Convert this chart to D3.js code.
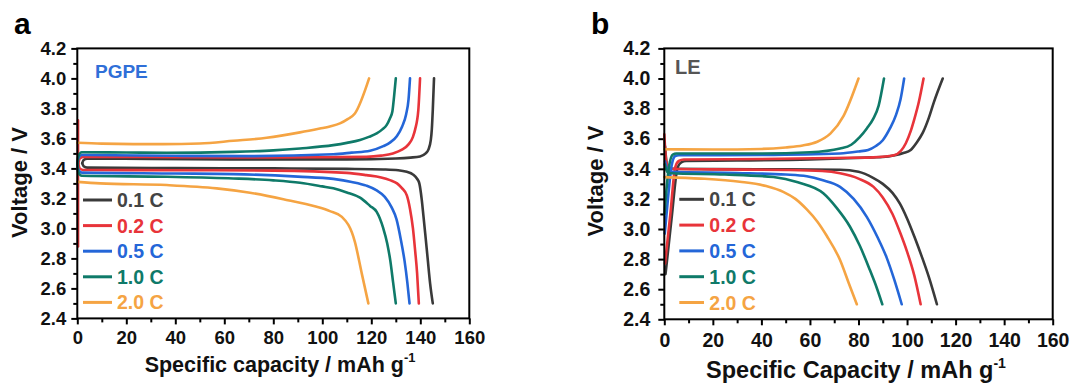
<!DOCTYPE html>
<html><head><meta charset="utf-8">
<script src="https://cdn.jsdelivr.net/npm/d3@7"></script>
<style>
html,body{margin:0;padding:0;background:#fff;}
svg{display:block;}
</style></head><body>
<svg id="chart" width="1075" height="388"></svg>
<script>
// C-rates and their colours
const rates = ["0.1 C", "0.2 C", "0.5 C", "1.0 C", "2.0 C"];
const rateColors = ["#3a3a3a", "#e8343a", "#2466d8", "#0f7a69", "#f5a443"];

// Axis ticks
const xTicks = [0, 20, 40, 60, 80, 100, 120, 140, 160];
const xMinorTicks = [10, 30, 50, 70, 90, 110, 130, 150];
const yTicks = [2.4, 2.6, 2.8, 3.0, 3.2, 3.4, 3.6, 3.8, 4.0, 4.2];
const yMinorTicks = [2.5, 2.7, 2.9, 3.1, 3.3, 3.5, 3.7, 3.9, 4.1];

// PGPE cell: charge curves [capacity mAh/g, voltage V], one per rate
const pgpeCharge = [
  [[2.0,3.435],[2.6,3.456],[4,3.465],[30,3.463],[70,3.46],[110,3.46],[130,3.466],[136,3.472],[139.9,3.48],[142.2,3.50],[143.3,3.525],[144.3,3.59],[144.7,3.66],[145.1,3.79],[145.6,4.0]],
  [[0.4,3.433],[1.0,3.465],[2.5,3.477],[40,3.475],[80,3.473],[118,3.477],[124,3.485],[128.8,3.50],[132.5,3.525],[135.2,3.56],[137,3.61],[137.9,3.66],[139.2,3.79],[139.9,4.0]],
  [[0,3.43],[0.5,3.47],[1.8,3.489],[40,3.484],[70,3.482],[104.5,3.494],[112,3.505],[119.5,3.518],[124.9,3.548],[127.6,3.572],[130.4,3.615],[132.6,3.68],[134.2,3.76],[135.2,3.86],[135.8,4.0]],
  [[0,3.43],[0.4,3.48],[1.8,3.508],[20,3.506],[36.5,3.504],[63.7,3.51],[80,3.52],[90.9,3.533],[104.5,3.555],[110,3.57],[115.4,3.589],[119,3.61],[122.2,3.633],[124.5,3.66],[126.3,3.69],[127.5,3.73],[128.6,3.78],[129.3,3.88],[130,4.0]],
  [[0,3.571],[10,3.565],[22.9,3.562],[35,3.562],[50,3.566],[63.7,3.584],[77.3,3.604],[90.9,3.64],[99,3.666],[103.1,3.68],[107.2,3.70],[110.5,3.73],[113.3,3.766],[119.1,4.0]]
];
// PGPE cell: discharge curves
const pgpeDischarge = [
  [[2.0,3.435],[2.6,3.414],[4,3.405],[40,3.402],[80,3.40],[110,3.397],[125,3.393],[131,3.388],[134.5,3.377],[137,3.36],[138.6,3.333],[139.6,3.30],[140.6,3.19],[141.3,3.08],[142,2.967],[143,2.80],[144,2.634],[145.1,2.5]],
  [[0.4,3.433],[1.0,3.40],[2.5,3.389],[40,3.388],[80,3.385],[110,3.37],[118,3.355],[124,3.34],[127.6,3.322],[130.5,3.30],[132.4,3.27],[134.5,3.22],[135.8,3.13],[137,3.0],[137.9,2.85],[138.7,2.70],[139.4,2.5]],
  [[0,3.43],[0.5,3.39],[1.8,3.372],[40,3.366],[63.7,3.362],[90,3.345],[104.5,3.33],[112,3.31],[118,3.285],[122,3.255],[125.5,3.21],[128.3,3.14],[130.3,3.06],[132,2.93],[133.6,2.78],[134.7,2.64],[135.6,2.5]],
  [[0,3.43],[0.4,3.375],[1.8,3.351],[36.5,3.344],[63.7,3.333],[80,3.32],[90.9,3.304],[100,3.28],[104.5,3.267],[110,3.24],[115.4,3.205],[119.5,3.15],[122.2,3.11],[124.9,3.0],[126.5,2.9],[127.8,2.78],[128.9,2.64],[130,2.5]],
  [[0,3.31],[9.3,3.30],[36.5,3.289],[56.9,3.267],[70.5,3.238],[84.1,3.195],[97.7,3.144],[103.1,3.115],[108,3.077],[113.3,2.91],[116.1,2.70],[118.8,2.5]]
];
// PGPE cell: rest spike of the 0.2 C curve at zero capacity
const pgpeSpike = [[0.3,3.72],[0.3,2.88]];

// LE cell: charge curves
const leCharge = [
  [[0.5,2.70],[3,3.07],[5.5,3.41],[7,3.443],[9,3.452],[30,3.455],[60,3.462],[86,3.476],[90,3.478],[95,3.49],[98.5,3.505],[101.5,3.525],[104,3.575],[106.5,3.64],[109,3.74],[111,3.84],[114.7,4.0]],
  [[0.3,2.77],[2.5,3.1],[4.5,3.41],[6,3.452],[8,3.462],[40,3.465],[70,3.472],[86,3.476],[91,3.482],[94.6,3.49],[97.5,3.52],[99.5,3.57],[101.5,3.65],[103,3.73],[104.8,3.84],[106.8,4.0]],
  [[0.2,2.97],[1.5,3.2],[3,3.42],[4.5,3.485],[6,3.49],[40,3.492],[72.4,3.502],[80,3.515],[84,3.525],[87,3.55],[90,3.59],[93,3.67],[95.5,3.76],[97.3,3.86],[98.8,4.0]],
  [[0.1,3.1],[1,3.28],[2,3.42],[3.5,3.495],[5,3.502],[40,3.502],[60,3.51],[72.4,3.535],[77,3.56],[80.5,3.61],[83.5,3.67],[86,3.73],[88.3,3.82],[90.5,4.0]],
  [[0,3.53],[20,3.528],[40,3.532],[50,3.542],[57,3.555],[63,3.58],[68.5,3.635],[73.8,3.75],[80,4.0]]
];
// LE cell: discharge curves
const leDischarge = [
  [[0.3,3.55],[1.2,3.42],[3,3.40],[20,3.398],[50,3.397],[72.4,3.394],[80,3.38],[86,3.34],[90,3.30],[94,3.24],[97,3.17],[100,3.07],[103,2.95],[106,2.82],[109,2.68],[112.3,2.5]],
  [[0,3.63],[0.8,3.45],[2.5,3.40],[20,3.396],[50,3.392],[65,3.385],[72.4,3.37],[80,3.335],[86.2,3.28],[90,3.21],[94,3.10],[97.3,2.97],[100,2.85],[103,2.69],[105.6,2.5]],
  [[0.3,3.45],[1.5,3.39],[3,3.38],[30,3.372],[50,3.362],[58.7,3.35],[65,3.325],[72.4,3.28],[78,3.2],[83.4,3.081],[88,2.94],[91.6,2.81],[94.8,2.66],[97.8,2.5]],
  [[0.2,3.43],[1.2,3.38],[3,3.37],[25,3.362],[45,3.345],[55,3.31],[65.5,3.237],[71,3.14],[76.5,3.015],[80.5,2.89],[84.7,2.727],[87.5,2.61],[89.8,2.5]],
  [[0,3.345],[15,3.335],[31.1,3.314],[42,3.285],[49,3.247],[54,3.2],[58.7,3.13],[63,3.05],[66.9,2.955],[72.4,2.794],[76,2.64],[79.3,2.5]]
];

const FONT = "'Liberation Sans', Arial, Helvetica, sans-serif";
const svg = d3.select("#chart")
  .attr("font-family", FONT)
  .attr("font-weight", "bold");

function drawPanel(p) {
  const x = d3.scaleLinear().domain([0, 160]).range([p.left, p.right]);
  const y = d3.scaleLinear().domain([2.4, 4.2]).range([p.bottom, p.top]);
  const g = svg.append("g");

  const styleAxis = (sel, size) => {
    sel.attr("font-family", FONT).attr("font-size", size).attr("font-weight", "bold");
    sel.select(".domain").remove();
    sel.selectAll(".tick line").attr("stroke", "#000").attr("stroke-width", 2);
    sel.selectAll(".tick text").attr("fill", "#111");
  };

  // x axis, major and minor ticks
  g.append("g").attr("transform", `translate(0,${p.bottom})`)
    .call(d3.axisBottom(x).tickValues(xTicks).tickSize(6).tickPadding(p.xPad).tickFormat(d3.format("d")))
    .call(s => styleAxis(s, p.tickFont));
  g.append("g").attr("transform", `translate(0,${p.bottom})`)
    .call(d3.axisBottom(x).tickValues(xMinorTicks).tickSize(4).tickFormat(""))
    .call(s => styleAxis(s, p.tickFont));

  // y axis, major and minor ticks
  g.append("g").attr("transform", `translate(${p.left},0)`)
    .call(d3.axisLeft(y).tickValues(yTicks).tickSize(6).tickPadding(p.yPad).tickFormat(d3.format(".1f")))
    .call(s => styleAxis(s, p.tickFont));
  g.append("g").attr("transform", `translate(${p.left},0)`)
    .call(d3.axisLeft(y).tickValues(yMinorTicks).tickSize(4).tickFormat(""))
    .call(s => styleAxis(s, p.tickFont));

  const line = d3.line().x(d => x(d[0])).y(d => y(d[1])).curve(d3.curveMonotoneX);
  const straight = d3.line().x(d => x(d[0])).y(d => y(d[1]));

  const curves = g.append("g").attr("fill", "none").attr("stroke-width", 2.6)
    .attr("stroke-linejoin", "round").attr("stroke-linecap", "round");

  rates.forEach((r, i) => {
    if (p.spike && p.spike.index === i) {
      curves.append("path").attr("d", straight(p.spike.points)).attr("stroke", rateColors[i]);
    }
    curves.append("path").attr("d", line(p.charge[i])).attr("stroke", rateColors[i]);
    curves.append("path").attr("d", line(p.discharge[i])).attr("stroke", rateColors[i]);
  });

  // plot frame
  g.append("rect")
    .attr("x", p.left).attr("y", p.top)
    .attr("width", p.right - p.left).attr("height", p.bottom - p.top)
    .attr("fill", "none").attr("stroke", "#000").attr("stroke-width", 2);

  // legend
  const leg = g.append("g");
  rates.forEach((r, i) => {
    const cy = p.legTop + i * p.legStep;
    leg.append("line")
      .attr("x1", p.legX1).attr("x2", p.legX2).attr("y1", cy).attr("y2", cy)
      .attr("stroke", rateColors[i]).attr("stroke-width", 3);
    leg.append("text")
      .attr("x", p.legText).attr("y", cy + 7)
      .attr("font-size", p.legFont).attr("fill", rateColors[i] === "#3a3a3a" ? "#444" : rateColors[i])
      .text(r);
  });

  // electrolyte name
  g.append("text").attr("x", p.nameX).attr("y", p.nameY)
    .attr("font-size", p.nameFont).attr("fill", p.nameColor).text(p.name);

  // panel letter
  g.append("text").attr("x", p.letterX).attr("y", 33.5)
    .attr("font-size", 30).attr("fill", "#000").text(p.letter);

  // axis titles
  const xt = g.append("text").attr("x", p.xTitleX).attr("y", p.xTitleY)
    .attr("text-anchor", "middle").attr("font-size", p.titleFont).attr("fill", "#111");
  xt.append("tspan").text(p.xTitle);
  xt.append("tspan").attr("dy", -p.titleFont * 0.42).attr("font-size", p.titleFont * 0.6).text("-1");

  g.append("text")
    .attr("transform", `translate(${p.yTitleX},${p.yTitleY}) rotate(-90)`)
    .attr("text-anchor", "middle").attr("font-size", 22).attr("fill", "#111")
    .text("Voltage / V");
}

drawPanel({
  left: 77.3, right: 469.3, top: 48.4, bottom: 318.4,
  charge: pgpeCharge, discharge: pgpeDischarge,
  spike: { index: 1, points: pgpeSpike },
  tickFont: 18.5, xPad: 6, yPad: 5,
  legX1: 83, legX2: 112, legText: 117, legTop: 200, legStep: 25.6, legFont: 19.5,
  name: "PGPE", nameX: 95, nameY: 78.3, nameFont: 19, nameColor: "#2f6fd8",
  letter: "a", letterX: 14,
  xTitle: "Specific capacity / mAh g", xTitleX: 280, xTitleY: 371.5, titleFont: 21.5,
  yTitleX: 27, yTitleY: 182.5
});

drawPanel({
  left: 664.3, right: 1052.7, top: 48.4, bottom: 319.3,
  charge: leCharge, discharge: leDischarge,
  tickFont: 19.5, xPad: 8, yPad: 8,
  legX1: 679.3, legX2: 704, legText: 709.3, legTop: 199.3, legStep: 25.8, legFont: 19.5,
  name: "LE", nameX: 675, nameY: 74, nameFont: 20, nameColor: "#555",
  letter: "b", letterX: 591,
  xTitle: "Specific Capacity / mAh g", xTitleX: 856, xTitleY: 378, titleFont: 23.5,
  yTitleX: 603, yTitleY: 181
});
</script></body></html>
